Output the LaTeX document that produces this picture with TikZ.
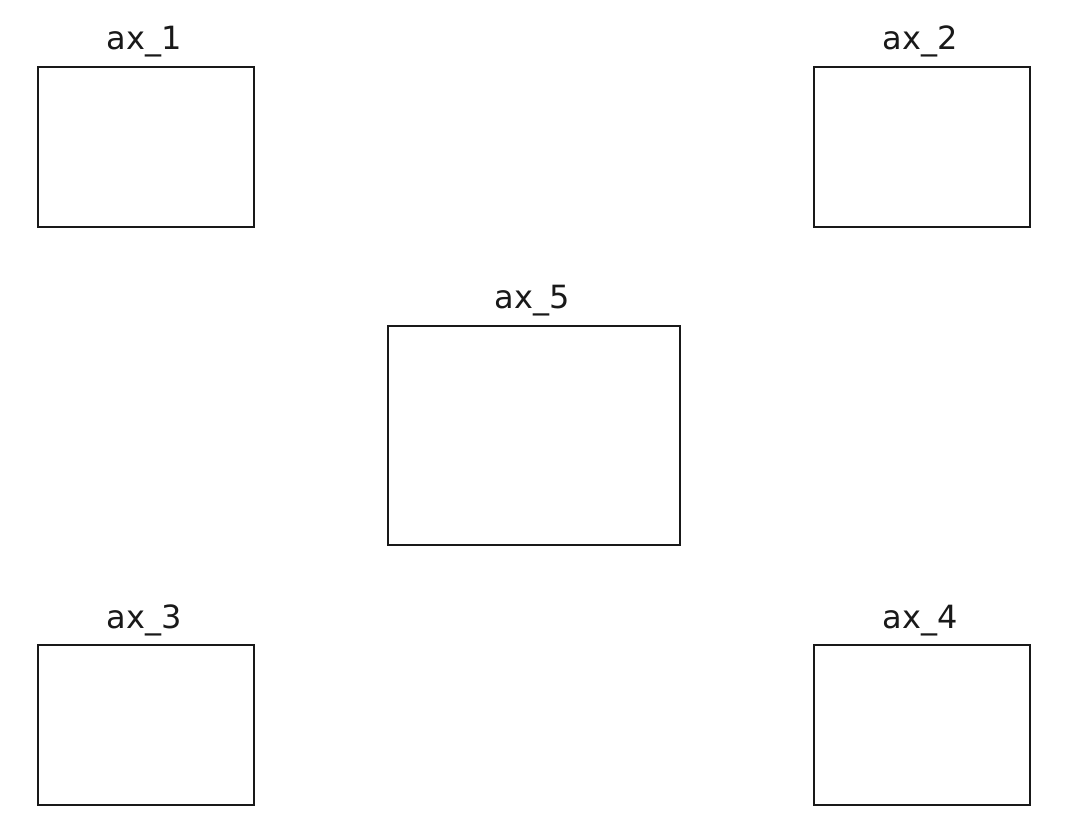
\documentclass[tikz,border=0pt]{standalone}
\usepackage{fontspec}
\setmainfont{DejaVu Sans}
\begin{document}
\begin{tikzpicture}[x=1pt,y=-1pt,
  axbox/.style={draw=black!90,line width=1.6pt,inner sep=0pt,anchor=north west},
  axlabel/.style={anchor=base,font=\fontsize{32}{38}\selectfont,text=black!90,inner sep=0pt}]
\useasboundingbox (0,0) rectangle (1082,834);
\node[axbox,minimum width=216pt,minimum height=160pt] (ax1) at (37,66) {};
\node[axbox,minimum width=216pt,minimum height=160pt] (ax2) at (813,66) {};
\node[axbox,minimum width=292pt,minimum height=219pt] (ax5) at (387,325) {};
\node[axbox,minimum width=216pt,minimum height=160pt] (ax3) at (37,644) {};
\node[axbox,minimum width=216pt,minimum height=160pt] (ax4) at (813,644) {};
\node[axlabel] (l1) at (144,50) {ax\_1};
\node[axlabel] (l2) at (920,50) {ax\_2};
\node[axlabel] (l5) at (532,309) {ax\_5};
\node[axlabel] (l3) at (144,628) {ax\_3};
\node[axlabel] (l4) at (920,628) {ax\_4};
\end{tikzpicture}
\end{document}
